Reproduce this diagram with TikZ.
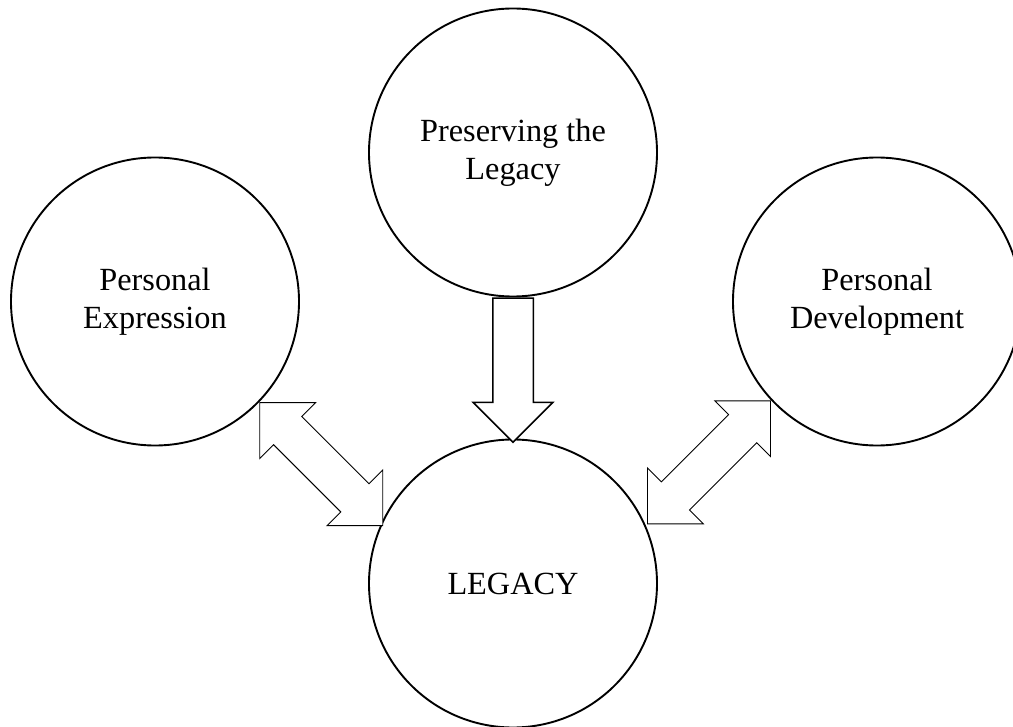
\documentclass[tikz,border=0pt]{standalone}
\usepackage{fontspec}
\setmainfont{Liberation Serif}
\usepackage{tikz}
\usetikzlibrary{arrows.meta, positioning, shapes.arrows, calc}

\begin{document}
\begin{tikzpicture}[x=1pt, y=-1pt,
    topic/.style={circle, draw, line width=1.9pt, minimum size=288pt, inner sep=0pt,
                  align=center, font=\fontsize{32.3}{38}\selectfont},
    downarrow/.style={single arrow, draw, fill=white, line width=1.5pt, minimum width=0pt,
                      minimum height=144pt, inner xsep=0pt, inner ysep=19.5pt,
                      single arrow head extend=19.5pt},
    bothways/.style={double arrow, draw, fill=white, line width=0.9pt, minimum width=0pt,
                     minimum height=174pt, inner xsep=0pt, inner ysep=19.5pt,
                     double arrow head extend=19.5pt}]
  \useasboundingbox (0,0) rectangle (1013,727);

  % Circles
  \node[topic] (pl) at (513,152.5) {Preserving the\\Legacy};
  \node[topic] (pe) at (155,301.5) {Personal\\Expression};
  \node[topic] (pd) at (877,301.5) {Personal\\Development};
  \node[topic] (legacy) at (513,583.5) {LEGACY};

  % Block arrows
  \node[downarrow, rotate=-90, anchor=west] (pl-legacy) at (pl.south) {};
  \node[bothways, rotate=-45, anchor=west] (pe-legacy) at (pe.-44) {};
  \node[bothways, rotate=45, anchor=east] (pd-legacy) at (pd.-137) {};
\end{tikzpicture}
\end{document}
